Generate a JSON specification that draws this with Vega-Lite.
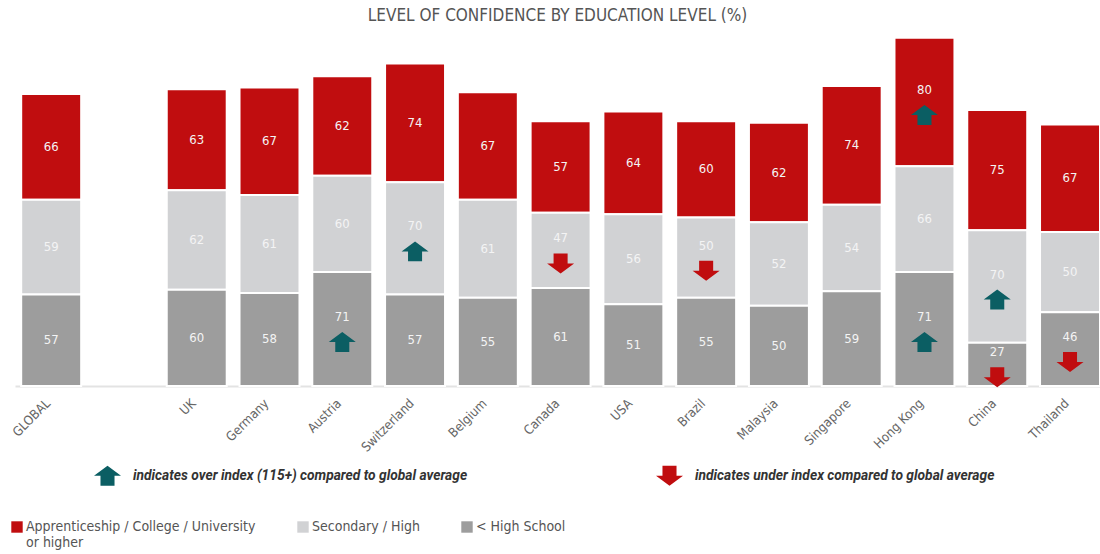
{
  "$schema": "https://vega.github.io/schema/vega-lite/v6.json",
  "autosize": "none",
  "width": 1085,
  "height": 353,
  "padding": {"left": 15, "top": 33, "right": 0, "bottom": 168},
  "background": "white",
  "title": {
    "text": "LEVEL OF CONFIDENCE BY EDUCATION LEVEL (%)",
    "anchor": "middle",
    "font": "'DejaVu Sans Condensed', sans-serif",
    "fontSize": 17,
    "fontWeight": "normal",
    "color": "#555555",
    "offset": 8
  },
  "data": {
    "values": [
      {"country": "GLOBAL", "level": "Apprenticeship / College / University or higher", "lvl": 3, "value": 66, "idx": "none"},
      {"country": "GLOBAL", "level": "Secondary / High", "lvl": 2, "value": 59, "idx": "none"},
      {"country": "GLOBAL", "level": "< High School", "lvl": 1, "value": 57, "idx": "none"},
      {"country": "UK", "level": "Apprenticeship / College / University or higher", "lvl": 3, "value": 63, "idx": "none"},
      {"country": "UK", "level": "Secondary / High", "lvl": 2, "value": 62, "idx": "none"},
      {"country": "UK", "level": "< High School", "lvl": 1, "value": 60, "idx": "none"},
      {"country": "Germany", "level": "Apprenticeship / College / University or higher", "lvl": 3, "value": 67, "idx": "none"},
      {"country": "Germany", "level": "Secondary / High", "lvl": 2, "value": 61, "idx": "none"},
      {"country": "Germany", "level": "< High School", "lvl": 1, "value": 58, "idx": "none"},
      {"country": "Austria", "level": "Apprenticeship / College / University or higher", "lvl": 3, "value": 62, "idx": "none"},
      {"country": "Austria", "level": "Secondary / High", "lvl": 2, "value": 60, "idx": "none"},
      {"country": "Austria", "level": "< High School", "lvl": 1, "value": 71, "idx": "over"},
      {"country": "Switzerland", "level": "Apprenticeship / College / University or higher", "lvl": 3, "value": 74, "idx": "none"},
      {"country": "Switzerland", "level": "Secondary / High", "lvl": 2, "value": 70, "idx": "over"},
      {"country": "Switzerland", "level": "< High School", "lvl": 1, "value": 57, "idx": "none"},
      {"country": "Belgium", "level": "Apprenticeship / College / University or higher", "lvl": 3, "value": 67, "idx": "none"},
      {"country": "Belgium", "level": "Secondary / High", "lvl": 2, "value": 61, "idx": "none"},
      {"country": "Belgium", "level": "< High School", "lvl": 1, "value": 55, "idx": "none"},
      {"country": "Canada", "level": "Apprenticeship / College / University or higher", "lvl": 3, "value": 57, "idx": "none"},
      {"country": "Canada", "level": "Secondary / High", "lvl": 2, "value": 47, "idx": "under"},
      {"country": "Canada", "level": "< High School", "lvl": 1, "value": 61, "idx": "none"},
      {"country": "USA", "level": "Apprenticeship / College / University or higher", "lvl": 3, "value": 64, "idx": "none"},
      {"country": "USA", "level": "Secondary / High", "lvl": 2, "value": 56, "idx": "none"},
      {"country": "USA", "level": "< High School", "lvl": 1, "value": 51, "idx": "none"},
      {"country": "Brazil", "level": "Apprenticeship / College / University or higher", "lvl": 3, "value": 60, "idx": "none"},
      {"country": "Brazil", "level": "Secondary / High", "lvl": 2, "value": 50, "idx": "under"},
      {"country": "Brazil", "level": "< High School", "lvl": 1, "value": 55, "idx": "none"},
      {"country": "Malaysia", "level": "Apprenticeship / College / University or higher", "lvl": 3, "value": 62, "idx": "none"},
      {"country": "Malaysia", "level": "Secondary / High", "lvl": 2, "value": 52, "idx": "none"},
      {"country": "Malaysia", "level": "< High School", "lvl": 1, "value": 50, "idx": "none"},
      {"country": "Singapore", "level": "Apprenticeship / College / University or higher", "lvl": 3, "value": 74, "idx": "none"},
      {"country": "Singapore", "level": "Secondary / High", "lvl": 2, "value": 54, "idx": "none"},
      {"country": "Singapore", "level": "< High School", "lvl": 1, "value": 59, "idx": "none"},
      {"country": "Hong Kong", "level": "Apprenticeship / College / University or higher", "lvl": 3, "value": 80, "idx": "over"},
      {"country": "Hong Kong", "level": "Secondary / High", "lvl": 2, "value": 66, "idx": "none"},
      {"country": "Hong Kong", "level": "< High School", "lvl": 1, "value": 71, "idx": "over"},
      {"country": "China", "level": "Apprenticeship / College / University or higher", "lvl": 3, "value": 75, "idx": "none"},
      {"country": "China", "level": "Secondary / High", "lvl": 2, "value": 70, "idx": "over"},
      {"country": "China", "level": "< High School", "lvl": 1, "value": 27, "idx": "under"},
      {"country": "Thailand", "level": "Apprenticeship / College / University or higher", "lvl": 3, "value": 67, "idx": "none"},
      {"country": "Thailand", "level": "Secondary / High", "lvl": 2, "value": 50, "idx": "none"},
      {"country": "Thailand", "level": "< High School", "lvl": 1, "value": 46, "idx": "under"}
    ]
  },
  "encoding": {
    "x": {
      "field": "country",
      "type": "nominal",
      "sort": null,
      "scale": {
        "domain": ["GLOBAL", " ", "UK", "Germany", "Austria", "Switzerland", "Belgium", "Canada", "USA", "Brazil", "Malaysia", "Singapore", "Hong Kong", "China", "Thailand"],
        "paddingInner": 0.176,
        "paddingOuter": 0.0426,
        "align": 1
      },
      "axis": {
        "title": null,
        "labelAngle": -45,
        "labelAlign": "right",
        "labelBaseline": "middle",
        "labelPadding": 15,
        "labelOffset": -3,
        "labelFont": "'DejaVu Sans Condensed', sans-serif",
        "labelFontSize": 13,
        "labelColor": "#666666",
        "ticks": false,
        "domainColor": "#e3e3e3",
        "domainWidth": 2,
        "grid": false
      }
    },
    "y": {
      "field": "value",
      "type": "quantitative",
      "stack": "zero",
      "scale": {"domain": [0, 220], "nice": false},
      "axis": null
    },
    "order": {"field": "lvl", "type": "quantitative"},
    "detail": {"field": "level", "type": "nominal"}
  },
  "layer": [
    {
      "mark": {"type": "bar", "stroke": "white", "strokeWidth": 2},
      "encoding": {
        "color": {
          "field": "level",
          "type": "nominal",
          "scale": {
            "domain": ["Apprenticeship / College / University or higher", "Secondary / High", "< High School"],
            "range": ["#c00d0f", "#d1d2d4", "#9d9d9d"]
          },
          "legend": {
            "title": null,
            "orient": "none",
            "legendX": -5,
            "legendY": 487,
            "direction": "horizontal",
            "columns": 3,
            "columnPadding": 40,
            "symbolType": "square",
            "symbolSize": 130,
            "symbolStrokeWidth": 0,
            "labelFont": "'DejaVu Sans Condensed', sans-serif",
            "labelFontSize": 14,
            "labelColor": "#555555",
            "labelLimit": 400,
            "labelOffset": 2,
            "labelExpr": "datum.label == 'Apprenticeship / College / University or higher' ? ['Apprenticeship / College / University', 'or higher'] : [datum.label, ' ']"
          }
        }
      }
    },
    {
      "mark": {"type": "text", "color": "#f4f4f4", "fontSize": 13, "font": "'DejaVu Sans Condensed', sans-serif"},
      "encoding": {
        "y": {"field": "value", "type": "quantitative", "stack": "zero", "bandPosition": 0.5},
        "text": {"field": "value", "type": "quantitative"},
        "opacity": {"condition": {"test": "datum.idx == 'none'", "value": 1}, "value": 0}
      }
    },
    {
      "mark": {"type": "text", "color": "#f4f4f4", "fontSize": 13, "dy": -12, "font": "'DejaVu Sans Condensed', sans-serif"},
      "encoding": {
        "y": {"field": "value", "type": "quantitative", "stack": "zero", "bandPosition": 0.5},
        "text": {"field": "value", "type": "quantitative"},
        "opacity": {"condition": {"test": "datum.idx == 'none'", "value": 0}, "value": 1}
      }
    },
    {
      "mark": {"type": "point", "filled": true, "size": 729, "yOffset": 13, "strokeWidth": 0, "opacity": 1},
      "encoding": {
        "y": {"field": "value", "type": "quantitative", "stack": "zero", "bandPosition": 0.5},
        "shape": {
          "field": "idx",
          "type": "nominal",
          "scale": {
            "domain": ["over", "under", "none"],
            "range": ["M0,-0.74L1,0L0.52,0L0.52,0.74L-0.52,0.74L-0.52,0L-1,0Z", "M0,0.74L1,0L0.52,0L0.52,-0.74L-0.52,-0.74L-0.52,0L-1,0Z", "circle"]
          },
          "legend": {
            "title": null,
            "values": ["over", "under"],
            "orient": "none",
            "legendX": 79,
            "legendY": 429,
            "direction": "horizontal",
            "columns": 2,
            "columnPadding": 188,
            "symbolSize": 729,
            "symbolStrokeWidth": 0,
            "labelOffset": 12,
            "labelFont": "Roboto",
            "labelFontSize": 13.8,
            "labelFontStyle": "italic",
            "labelFontWeight": "bold",
            "labelColor": "#333333",
            "labelLimit": 500,
            "labelExpr": "datum.label == 'over' ? 'indicates over index (115+) compared to global average' : 'indicates under index compared to global average'"
          }
        },
        "fill": {
          "field": "idx",
          "type": "nominal",
          "scale": {
            "domain": ["over", "under", "none"],
            "range": ["#0b5e63", "#c00d0f", "transparent"]
          },
          "legend": {
            "title": null,
            "values": ["over", "under"],
            "orient": "none",
            "legendX": 79,
            "legendY": 429,
            "direction": "horizontal",
            "columns": 2,
            "columnPadding": 188,
            "symbolSize": 729,
            "symbolStrokeWidth": 0,
            "labelOffset": 12,
            "labelFont": "Roboto",
            "labelFontSize": 13.8,
            "labelFontStyle": "italic",
            "labelFontWeight": "bold",
            "labelColor": "#333333",
            "labelLimit": 500,
            "labelExpr": "datum.label == 'over' ? 'indicates over index (115+) compared to global average' : 'indicates under index compared to global average'"
          }
        }
      }
    }
  ],
  "config": {
    "view": {"stroke": null},
    "legend": {"padding": 0}
  }
}
